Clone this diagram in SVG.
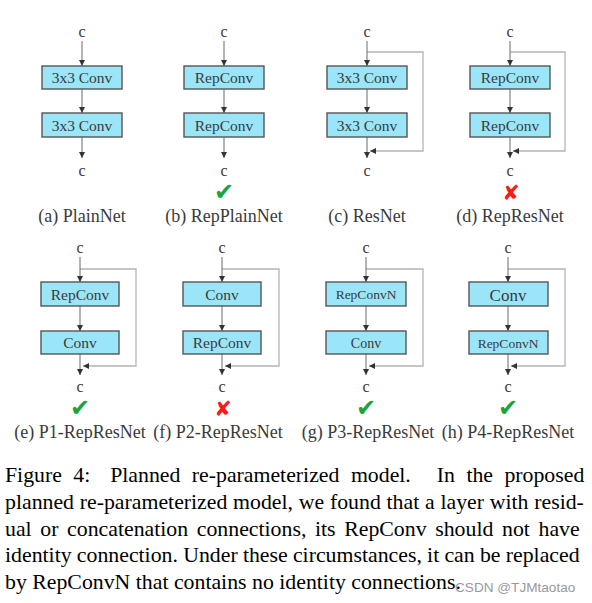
<svg xmlns="http://www.w3.org/2000/svg" width="592" height="603" viewBox="0 0 592 603">
<style>
.bg{fill:#ffffff}
.box{fill:#9ae6f8;stroke:#555555;stroke-width:1.4}
.bt{font-family:"Liberation Serif","Times New Roman",serif;font-size:15.5px;fill:#3a3a3a;text-anchor:middle}
.c{font-family:"Liberation Serif","Times New Roman",serif;font-size:16px;fill:#3a3a3a;text-anchor:middle}
.lab{font-family:"Liberation Serif","Times New Roman",serif;font-size:18px;fill:#3a3a3a;text-anchor:middle}
.ln{fill:none;stroke:#6a6a6a;stroke-width:1}
.loop{fill:none;stroke:#b4b4b4;stroke-width:1.3}
.ok{font-family:"DejaVu Sans",sans-serif;font-size:24px;fill:#1ca33c;text-anchor:middle}
.no{font-family:"DejaVu Sans",sans-serif;font-size:21px;fill:#ff1a1a;text-anchor:middle}
.cap{font-family:"Liberation Serif","Times New Roman",serif;font-size:21.8px;fill:#000000}
.wm{font-family:"Liberation Sans",Arial,sans-serif;font-size:13.6px;fill:#9a9a9a}
</style>
<defs>
<marker id="ah" markerUnits="userSpaceOnUse" markerWidth="6" markerHeight="6" refX="6" refY="3" orient="auto">
<path d="M0,0 L6,3 L0,6 z" fill="#333333"/>
</marker>
</defs>
<rect class="bg" x="0" y="0" width="592" height="603"/>

<!-- connectors -->
<g id="connectors">
<!-- row 1 -->
<g transform="translate(82,0)">
<path class="ln" d="M0,41 V66" marker-end="url(#ah)"/>
<path class="ln" d="M0,89 V113" marker-end="url(#ah)"/>
<path class="ln" d="M0,137 V158" marker-end="url(#ah)"/>
</g>
<g transform="translate(224,0)">
<path class="ln" d="M0,41 V66" marker-end="url(#ah)"/>
<path class="ln" d="M0,89 V113" marker-end="url(#ah)"/>
<path class="ln" d="M0,137 V158" marker-end="url(#ah)"/>
</g>
<g transform="translate(367,0)">
<path class="loop" d="M0,52 H56 V151 H3" marker-end="url(#ah)"/>
<path class="ln" d="M0,41 V66" marker-end="url(#ah)"/>
<path class="ln" d="M0,89 V113" marker-end="url(#ah)"/>
<path class="ln" d="M0,137 V158" marker-end="url(#ah)"/>
</g>
<g transform="translate(510,0)">
<path class="loop" d="M0,52 H55 V151 H3" marker-end="url(#ah)"/>
<path class="ln" d="M0,41 V66" marker-end="url(#ah)"/>
<path class="ln" d="M0,89 V113" marker-end="url(#ah)"/>
<path class="ln" d="M0,137 V158" marker-end="url(#ah)"/>
</g>
<!-- row 2 -->
<g transform="translate(80,216)">
<path class="loop" d="M0,53 H56 V150 H3" marker-end="url(#ah)"/>
<path class="ln" d="M0,41 V66" marker-end="url(#ah)"/>
<path class="ln" d="M0,90 V115" marker-end="url(#ah)"/>
<path class="ln" d="M0,138 V159" marker-end="url(#ah)"/>
</g>
<g transform="translate(222,216)">
<path class="loop" d="M0,53 H57 V150 H3" marker-end="url(#ah)"/>
<path class="ln" d="M0,41 V66" marker-end="url(#ah)"/>
<path class="ln" d="M0,90 V115" marker-end="url(#ah)"/>
<path class="ln" d="M0,138 V159" marker-end="url(#ah)"/>
</g>
<g transform="translate(366,216)">
<path class="loop" d="M0,53 H57 V150 H3" marker-end="url(#ah)"/>
<path class="ln" d="M0,41 V66" marker-end="url(#ah)"/>
<path class="ln" d="M0,90 V115" marker-end="url(#ah)"/>
<path class="ln" d="M0,138 V159" marker-end="url(#ah)"/>
</g>
<g transform="translate(508,216)">
<path class="loop" d="M0,53 H57 V150 H3" marker-end="url(#ah)"/>
<path class="ln" d="M0,41 V66" marker-end="url(#ah)"/>
<path class="ln" d="M0,90 V115" marker-end="url(#ah)"/>
<path class="ln" d="M0,138 V159" marker-end="url(#ah)"/>
</g>
</g>

<!-- (a) PlainNet -->
<g id="a" transform="translate(82,0)">
<text class="c" x="0" y="37">c</text>
<rect class="box" x="-40" y="66" width="80" height="23"/>
<text class="bt" x="0" y="83">3x3 Conv</text>
<rect class="box" x="-40" y="113" width="80" height="24"/>
<text class="bt" x="0" y="130.5">3x3 Conv</text>
<text class="c" x="0" y="176">c</text>
<text class="lab" x="0" y="222">(a) PlainNet</text>
</g>

<!-- (b) RepPlainNet -->
<g id="b" transform="translate(224,0)">
<text class="c" x="0" y="37">c</text>
<rect class="box" x="-40" y="66" width="80" height="23"/>
<text class="bt" x="0" y="83">RepConv</text>
<rect class="box" x="-40" y="113" width="80" height="24"/>
<text class="bt" x="0" y="130.5">RepConv</text>
<text class="c" x="0" y="176">c</text>
<text class="ok" x="0" y="200">✔</text>
<text class="lab" x="0" y="222">(b) RepPlainNet</text>
</g>

<!-- (c) ResNet -->
<g id="c" transform="translate(367,0)">
<text class="c" x="0" y="37">c</text>
<rect class="box" x="-40" y="66" width="80" height="23"/>
<text class="bt" x="0" y="83">3x3 Conv</text>
<rect class="box" x="-40" y="113" width="80" height="24"/>
<text class="bt" x="0" y="130.5">3x3 Conv</text>
<text class="c" x="0" y="176">c</text>
<text class="lab" x="0" y="222">(c) ResNet</text>
</g>

<!-- (d) RepResNet -->
<g id="d" transform="translate(510,0)">
<text class="c" x="0" y="37">c</text>
<rect class="box" x="-40" y="66" width="80" height="23"/>
<text class="bt" x="0" y="83">RepConv</text>
<rect class="box" x="-40" y="113" width="80" height="24"/>
<text class="bt" x="0" y="130.5">RepConv</text>
<text class="c" x="0" y="176">c</text>
<text class="no" x="1" y="200">✘</text>
<text class="lab" x="0" y="222">(d) RepResNet</text>
</g>

<!-- (e) P1-RepResNet -->
<g id="e" transform="translate(80,216)">
<text class="c" x="0" y="37">c</text>
<rect class="box" x="-39" y="66" width="78" height="24"/>
<text class="bt" x="0" y="83.5">RepConv</text>
<rect class="box" x="-39" y="115" width="78" height="23"/>
<text class="bt" x="0" y="132">Conv</text>
<text class="c" x="0" y="176">c</text>
<text class="ok" x="0" y="200">✔</text>
<text class="lab" x="0" y="222">(e) P1-RepResNet</text>
</g>

<!-- (f) P2-RepResNet -->
<g id="f" transform="translate(222,216)">
<text class="c" x="0" y="37">c</text>
<rect class="box" x="-39" y="66" width="78" height="24"/>
<text class="bt" x="0" y="83.5">Conv</text>
<rect class="box" x="-39" y="115" width="78" height="23"/>
<text class="bt" x="0" y="132">RepConv</text>
<text class="c" x="0" y="176">c</text>
<text class="no" x="1" y="200">✘</text>
<text class="lab" x="-4" y="222">(f) P2-RepResNet</text>
</g>

<!-- (g) P3-RepResNet -->
<g id="g" transform="translate(366,216)">
<text class="c" x="0" y="37">c</text>
<rect class="box" x="-40" y="66" width="80" height="24"/>
<text class="bt" x="0" y="83" style="font-size:13.5px">RepConvN</text>
<rect class="box" x="-40" y="115" width="80" height="23"/>
<text class="bt" x="0" y="131.5" style="font-size:14px">Conv</text>
<text class="c" x="0" y="176">c</text>
<text class="ok" x="0" y="200">✔</text>
<text class="lab" x="2" y="222">(g) P3-RepResNet</text>
</g>

<!-- (h) P4-RepResNet -->
<g id="h" transform="translate(508,216)">
<text class="c" x="0" y="37">c</text>
<rect class="box" x="-39" y="66" width="79" height="24"/>
<text class="bt" x="0" y="84.5" style="font-size:17px">Conv</text>
<rect class="box" x="-39" y="115" width="79" height="23"/>
<text class="bt" x="0" y="131.5" style="font-size:13.5px">RepConvN</text>
<text class="c" x="0" y="176">c</text>
<text class="ok" x="0" y="200">✔</text>
<text class="lab" x="0" y="222">(h) P4-RepResNet</text>
</g>

<!-- caption -->
<g id="caption">
<text class="cap" y="482"><tspan x="5">Figure</tspan><tspan x="73.3">4:</tspan><tspan x="110.2">Planned</tspan><tspan x="191.8">re-parameterized</tspan><tspan x="350.9">model.</tspan><tspan x="436.8">In</tspan><tspan x="466.4">the</tspan><tspan x="504.4">proposed</tspan></text>
<text class="cap" x="5" y="508.5" style="word-spacing:0.3px">planned re-parameterized model, we found that a layer with resid-</text>
<text class="cap" x="5" y="535.5" style="word-spacing:3.2px">ual or concatenation connections, its RepConv should not have</text>
<text class="cap" x="5" y="562" style="word-spacing:-0.2px">identity connection. Under these circumstances, it can be replaced</text>
<text class="cap" x="5" y="589">by RepConvN that contains no identity connections.</text>
<text class="wm" x="455" y="592">CSDN @TJMtaotao</text>
</g>
</svg>
